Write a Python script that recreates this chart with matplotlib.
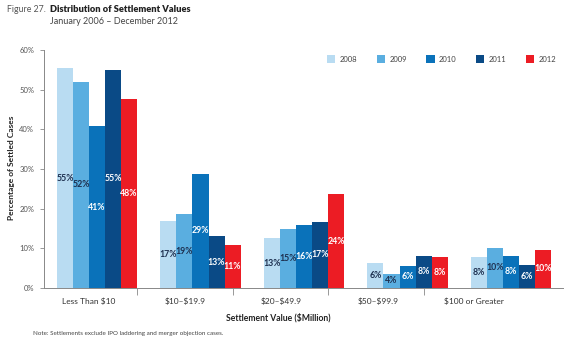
import matplotlib
matplotlib.use("Agg")
import matplotlib.pyplot as plt
import numpy as np

categories = ["Less Than \\$10", "\\$10\u2013\\$19.9", "\\$20\u2013\\$49.9", "\\$50\u2013\\$99.9", "\\$100 or Greater"]
years = ["2008", "2009", "2010", "2011", "2012"]
values = {
    "2008": [55.4, 16.9, 12.6, 6.3, 7.8],
    "2009": [52.0, 18.6, 15.0, 3.6, 10.1],
    "2010": [40.8, 28.8, 15.8, 5.6, 8.1],
    "2011": [55.0, 13.1, 16.7, 8.1, 5.8],
    "2012": [47.6, 10.8, 23.6, 7.9, 9.6],
}
colors = ["#b9dcf2", "#5aaee0", "#0a72ba", "#0a4a86", "#ec1c24"]
label_colors = ["#1d2f4f", "#1d2f4f", "white", "white", "white"]

plt.rcParams['font.family'] = ['Lato', 'DejaVu Sans']

fig = plt.figure(figsize=(5.64, 3.42), dpi=100)
ax = fig.add_axes([44/564, (342-288)/342, (563-44)/564, (288-50)/342])

n = len(years)
w = 0.155
x = np.arange(len(categories))
for j, yr in enumerate(years):
    xs = x + (j - (n - 1) / 2) * w
    ax.bar(xs, values[yr], width=w, color=colors[j], label=yr, linewidth=0)
    for xi, v in zip(xs, values[yr]):
        ax.text(xi, v / 2, f"{round(v):d}%", ha="center", va="center",
                fontsize=6.3, fontweight="bold", color=label_colors[j])

ax.set_xlim(-0.512, 4.502)
ax.set_ylim(0, 60)
ax.set_yticks(np.arange(0, 61, 10))
ax.set_yticklabels([f"{v}%" for v in range(0, 61, 10)])
ax.tick_params(axis="y", length=3, width=0.6, color="#888888", labelsize=5.5,
               labelcolor="#555555", pad=4)

# category labels (offset as in original)
lab_pos = [-0.077 + 0.93 * i for i in range(len(categories))]
ax.set_xticks(lab_pos)
ax.set_xticklabels(categories)
ax.tick_params(axis="x", length=0, labelsize=6, labelcolor="#333333", pad=7)
sep = [0.386 + 0.925 * i for i in range(len(categories) - 1)]
ax.set_xticks(sep, minor=True)
ax.tick_params(axis="x", which="minor", length=5, width=0.6, color="#888888")

for s in ["top", "right"]:
    ax.spines[s].set_visible(False)
for s in ["left", "bottom"]:
    ax.spines[s].set_color("#888888")
    ax.spines[s].set_linewidth(0.7)

fig.text(12/564, 1 - 168/342, "Percentage of Settled Cases", rotation=90,
         ha="center", va="center", fontsize=6, fontweight="bold", color="#222222")
fig.text(278/564, 1 - 318/342, "Settlement Value (\\$Million)", ha="center", va="center",
         fontsize=6.2, fontweight="bold", color="#222222")
fig.text(33/564, 1 - 334/342, "Note: Settlements exclude IPO laddering and merger objection cases.",
         ha="left", va="center", fontsize=4.5, color="#444444")

fig.text(7/564, 1 - 10/342, "Figure 27.", ha="left", va="center", fontsize=6.3, color="#555555")
fig.text(50/564, 1 - 10/342, "Distribution of Settlement Values", ha="left", va="center",
         fontsize=6.7, fontweight="heavy", color="#222222")
fig.text(50/564, 1 - 21/342, "January 2006 \u2013 December 2012", ha="left", va="center",
         fontsize=6.5, color="#444444")

leg = ax.legend(loc="center left", bbox_to_anchor=(327/564, 1 - 59/342), bbox_transform=fig.transFigure,
                ncol=5, frameon=False, fontsize=5.5, handlelength=1.1, handleheight=1.1,
                columnspacing=2.5, handletextpad=0.6, borderaxespad=0, borderpad=0)
for t in leg.get_texts():
    t.set_color("#444444")

fig.savefig("out.png", dpi=100)
